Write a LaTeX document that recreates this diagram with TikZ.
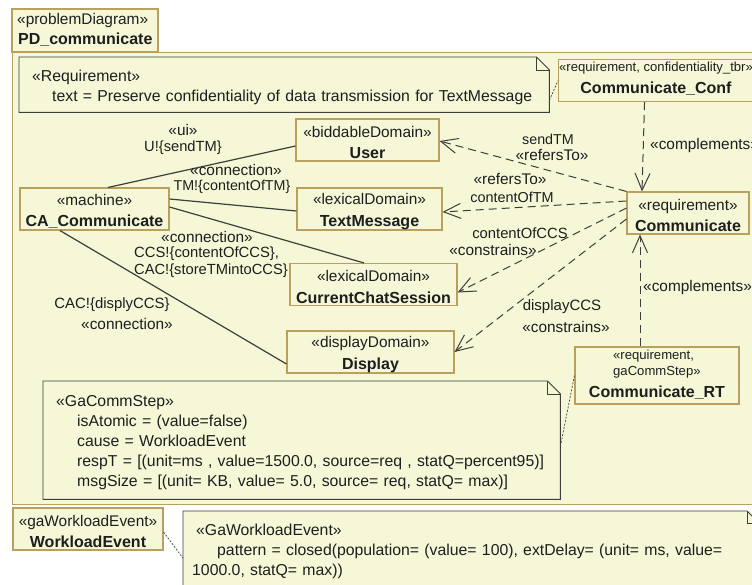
\documentclass[tikz,border=0pt]{standalone}
\usepackage{fontspec}
\setmainfont{Liberation Sans}
\usetikzlibrary{arrows.meta,calc}
\definecolor{umlfill}{HTML}{F5F7D7}
\definecolor{umlline}{HTML}{B8A060}
\definecolor{umltext}{HTML}{1E1E1E}
\definecolor{notel}{HTML}{3C3F3A}
\newcommand{\namefont}{\fontsize{16}{20}\bfseries\selectfont}
\newcommand{\topstrut}{\rule{0pt}{16pt}}
\newcommand{\bname}[1]{{\namefont #1}}
\tikzset{
 txt/.style={font=\fontsize{15.4}{16}\selectfont,text=umltext,inner sep=0pt,yshift=-1pt},
 lbl/.style={txt,font=\fontsize{#1}{16}\selectfont},
 nametxt/.style={font=\namefont,text=umltext,inner sep=0pt},
 smalltxt/.style={font=\fontsize{13.1}{16}\selectfont,text=umltext,inner sep=0pt},
 box/.style={draw=umlline,line width=1.1pt,fill=umlfill,inner sep=0pt,align=center,text=umltext,font=\fontsize{15.4}{21.5}\selectfont},
 framebox/.style={draw=umlline,line width=1.1pt,fill=umlfill},
 notebox/.style={fill=umlfill,inner sep=0pt,align=left,anchor=north west,text=umltext,font=\fontsize{15.8}{20}\selectfont},
 noteline/.style={draw=notel,line width=0.9pt,line join=miter},
 assoc/.style={draw=notel,line width=1.2pt},
 dep/.style={draw=notel,line width=1pt,dash pattern=on 8pt off 5pt,-{Straight Barb[length=17pt,width=15pt,line width=1pt]}},
 anchorline/.style={draw=notel,line width=0.7pt,dash pattern=on 2pt off 1.5pt},
}
\newcommand{\notepath}[2]{\draw[noteline] (#1.north west) -- ([xshift=-#2pt]#1.north east) -- ([yshift=-#2pt]#1.north east) -- (#1.south east) -- (#1.south west) -- cycle;
 \draw[noteline] ([xshift=-#2pt]#1.north east) -- ++(0,-#2pt) -- ([yshift=-#2pt]#1.north east);}
\begin{document}
\begin{tikzpicture}[x=1pt,y=-1pt]
\useasboundingbox (0,0) rectangle (752,584);
\clip (0,0) rectangle (752,584);
% frame
\node[framebox,minimum width=146pt,minimum height=43pt,inner sep=0pt] (tab) at (85,30.5) {};
\node[framebox,minimum width=760pt,minimum height=452pt,inner sep=0pt,anchor=north west] (frame) at (12,52) {};
\node[txt,anchor=west] (tabs) at (17,20) {«problemDiagram»};
\node[nametxt,anchor=west] (tabn) at (18,40) {PD\_communicate};
% note 1
\node[notebox,minimum width=530pt,minimum height=55pt,text width=504pt] (n1) at (19,57) {\rule{0pt}{17pt}«Requirement»\\\hspace*{20pt}text = Preserve confidentiality of data transmission for TextMessage};
\notepath{n1}{13}
% boxes
\node[box,minimum width=200pt,minimum height=42pt,anchor=north west] (conf) at (558,59) {};
\node[smalltxt,anchor=west] (confs) at (559,68) {«requirement, confidentiality\_tbr»};
\node[nametxt] (confn) at (656,89) {Communicate\_Conf};
\node[box,minimum width=143pt,minimum height=42pt] (user) at (367.5,140) {\topstrut«biddableDomain»\\\bname{User}};
\node[box,minimum width=145pt,minimum height=42pt] (tm) at (369.5,209) {\topstrut«lexicalDomain»\\\bname{TextMessage}};
\node[box,minimum width=167pt,minimum height=42pt] (ccs) at (373.5,284.5) {\topstrut«lexicalDomain»\\\bname{CurrentChatSession}};
\node[box,minimum width=167pt,minimum height=42pt] (disp) at (370.5,352) {\topstrut«displayDomain»\\\bname{Display}};
\node[box,minimum width=149pt,minimum height=42pt] (mach) at (94.5,209) {\topstrut«machine»\\\bname{CA\_Communicate}};
\node[box,minimum width=122pt,minimum height=42pt] (comm) at (688,213) {\topstrut«requirement»\\\bname{Communicate}};
\node[box,minimum width=164pt,minimum height=57pt] (rt) at (657,375.5) {};
\node[smalltxt,anchor=west] (rts1) at (613,356) {«requirement,};
\node[smalltxt,anchor=west] (rts2) at (613,372) {gaCommStep»};
\node[nametxt] (rtn) at (657,393) {Communicate\_RT};
\node[box,minimum width=150pt,minimum height=42pt] (wl) at (88,529) {\topstrut«gaWorkloadEvent»\\\bname{WorkloadEvent}};
% note 2
\node[notebox,minimum width=517pt,minimum height=118pt,text width=491pt] (n2) at (43,381) {\rule{0pt}{15pt}«GaCommStep»\\\hspace*{21pt}isAtomic = (value=false)\\\hspace*{21pt}cause = WorkloadEvent\\\hspace*{21pt}respT = [(unit=ms , value=1500.0, source=req , statQ=percent95)]\\\hspace*{21pt}msgSize = [(unit= KB, value= 5.0, source= req, statQ= max)]};
\notepath{n2}{13}
% note 3
\node[notebox,minimum width=600pt,minimum height=80pt,text width=582pt] (n3) at (183,511) {\hspace*{4pt}«GaWorkloadEvent»\\\hspace*{25pt}pattern = closed(population= (value= 100), extDelay= (unit= ms, value=\\1000.0, statQ= max))};
\draw[noteline] (n3.south west) -- (n3.north west) -- ++(564,0) -- ++(14,14);
\draw[noteline] ([xshift=564pt]n3.north west) -- ++(0,12) -- ++(14,0);
% connectors
\draw[assoc] ([yshift=-6pt]user.west) -- ([xshift=13.5pt]mach.north);
\draw[assoc] ([yshift=10pt]mach.east) -- ([yshift=-2pt]tm.west);
\draw[assoc] ([yshift=2pt]mach.east) -- ([xshift=-9.5pt]ccs.north);
\draw[assoc] ([xshift=-34.5pt]mach.south) -- ([yshift=-12pt]disp.west);
\draw[dep] (comm.north west) -- ([yshift=-1pt]user.east);
\draw[dep] ([yshift=12pt]comm.west) -- ([yshift=-3pt]tm.east);
\draw[dep] ([yshift=5pt]comm.west) -- ([yshift=-8pt]ccs.east);
\draw[dep] ([yshift=-6pt]comm.west) -- (disp.east);
\draw[dep] ([xshift=-14pt]conf.south) -- ([xshift=-46pt]comm.north);
\draw[dep] ([xshift=-17pt]rt.north) -- ([xshift=-48pt]comm.south);
\draw[anchorline] ([yshift=12pt]n1.south east) -- (conf.west);
\draw[anchorline] ([yshift=-6pt]n2.east) -- (rt.west);
\draw[anchorline] ([yshift=-3pt]wl.east) -- ([yshift=-7pt]n3.west);
% labels
\node[txt] (l1) at (183,129) {«ui»};
\node[lbl=14.7] (l2) at (183,147) {U!\{sendTM\}};
\node[txt] (l3) at (236,169) {«connection»};
\node[lbl=14.3] (l4) at (232,186) {TM!\{contentOfTM\}};
\node[txt] (l5) at (207,236) {«connection»};
\node[lbl=14.8,anchor=west] (l6) at (134,253) {CCS!\{contentOfCCS\},};
\node[lbl=14.7,anchor=west] (l7) at (134,270) {CAC!\{storeTMintoCCS\}};
\node[lbl=14.9] (l8) at (112,304) {CAC!\{displyCCS\}};
\node[txt] (l9) at (127,323) {«connection»};
\node[lbl=14.3] (l10) at (548,138) {sendTM};
\node[txt] (l11) at (552,154) {«refersTo»};
\node[txt] (l12) at (510,178) {«refersTo»};
\node[lbl=14.4] (l13) at (512,196) {contentOfTM};
\node[lbl=14.8] (l14) at (520,232) {contentOfCCS};
\node[txt] (l15) at (493,249) {«constrains»};
\node[lbl=15] (l16) at (562,306) {displayCCS};
\node[txt] (l17) at (566,326) {«constrains»};
\node[txt,anchor=west] (l18) at (650,145) {«complements»};
\node[txt,anchor=west] (l19) at (643,287) {«complements»};
\end{tikzpicture}
\end{document}
